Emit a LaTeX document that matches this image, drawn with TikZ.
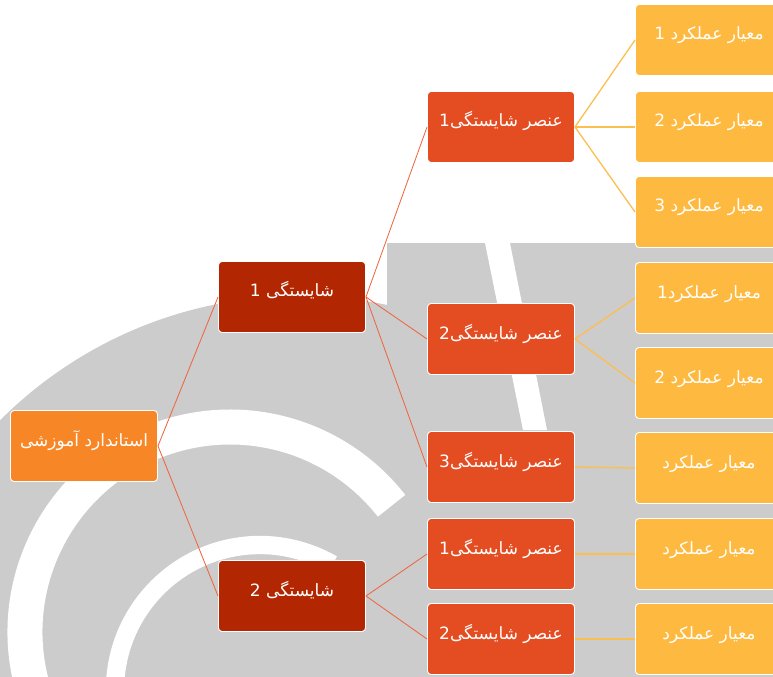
\documentclass[tikz,border=0pt]{standalone}
\usepackage{fontspec}
\newfontfamily\farsi[Script=Arabic]{DejaVu Sans}
\TeXXeTstate=1
\usetikzlibrary{positioning}
\usepackage{xcolor}

\definecolor{stdorange}{RGB}{247,134,38}
\definecolor{compred}{RGB}{178,38,2}
\definecolor{elemred}{RGB}{228,76,33}
\definecolor{critgold}{RGB}{253,185,64}
\definecolor{linkred}{RGB}{240,100,60}
\definecolor{linkgold}{RGB}{253,190,80}
\definecolor{markgray}{RGB}{204,204,204}

\newcommand{\fa}[1]{\beginR #1\endR}

\begin{document}
\begin{tikzpicture}[x=0.03cm, y=-0.03cm,
    box/.style={draw=white, line width=0.8pt, rounded corners=3pt,
        minimum width=4.41cm, minimum height=2.13cm, inner sep=2pt,
        text height=0.45cm, text depth=0.45cm, text=white,
        font=\farsi\fontsize{14.5}{16}\selectfont},
    link/.style={draw=linkred, line width=0.7pt},
    goldlink/.style={draw=linkgold, line width=1.1pt}]
    \clip (0,0) rectangle (773,677);
    \fill[white] (0,0) rectangle (773,677);

    % faded logo in the background
    \begin{scope}
        \clip (0,0) rectangle (389,677);
        \fill[markgray] (300,720) circle (424);
    \end{scope}
    \fill[markgray] (387,243) rectangle (773,677);
    \fill[white] (485,243) -- (510,243) -- (547,430) -- (523,430) -- cycle;
    \draw[white, line width=1.05cm] (230,632) ++(163:205) arc (163:322:205);
    \draw[white, line width=0.55cm] (260,690) ++(180:145) arc (180:300:145);

    % tree
    \node[box, fill=stdorange] (std) at (84,446) {\fa{استاندارد آموزشی}};

    \node[box, fill=compred] (c1) at (292,297) {\fa{شایستگی 1}};
    \node[box, fill=compred] (c2) at (292,596) {\fa{شایستگی 2}};

    \node[box, fill=elemred] (e1) at (501,127) {\fa{عنصر شایستگی1}};
    \node[box, fill=elemred] (e2) at (501,339) {\fa{عنصر شایستگی2}};
    \node[box, fill=elemred] (e3) at (501,467) {\fa{عنصر شایستگی3}};
    \node[box, fill=elemred] (e4) at (501,554) {\fa{عنصر شایستگی1}};
    \node[box, fill=elemred] (e5) at (501,639) {\fa{عنصر شایستگی2}};

    \node[box, fill=critgold] (m1) at (709,40) {\fa{معیار عملکرد 1}};
    \node[box, fill=critgold] (m2) at (709,127) {\fa{معیار عملکرد 2}};
    \node[box, fill=critgold] (m3) at (709,212) {\fa{معیار عملکرد 3}};
    \node[box, fill=critgold] (m4) at (709,298) {\fa{معیار عملکرد1}};
    \node[box, fill=critgold] (m5) at (709,383) {\fa{معیار عملکرد 2}};
    \node[box, fill=critgold] (m6) at (709,468) {\fa{معیار عملکرد}};
    \node[box, fill=critgold] (m7) at (709,554) {\fa{معیار عملکرد}};
    \node[box, fill=critgold] (m8) at (709,639) {\fa{معیار عملکرد}};

    \path (std.east) edge[link] (c1.west);
    \path (std.east) edge[link] (c2.west);
    \path (c1.east) edge[link] (e1.west);
    \path (c1.east) edge[link] (e2.west);
    \path (c1.east) edge[link] (e3.west);
    \path (c2.east) edge[link] (e4.west);
    \path (c2.east) edge[link] (e5.west);

    \path (e1.east) edge[goldlink] (m1.west);
    \path (e1.east) edge[goldlink] (m2.west);
    \path (e1.east) edge[goldlink] (m3.west);
    \path (e2.east) edge[goldlink] (m4.west);
    \path (e2.east) edge[goldlink] (m5.west);
    \path (e3.east) edge[goldlink] (m6.west);
    \path (e4.east) edge[goldlink] (m7.west);
    \path (e5.east) edge[goldlink] (m8.west);
\end{tikzpicture}
\end{document}
